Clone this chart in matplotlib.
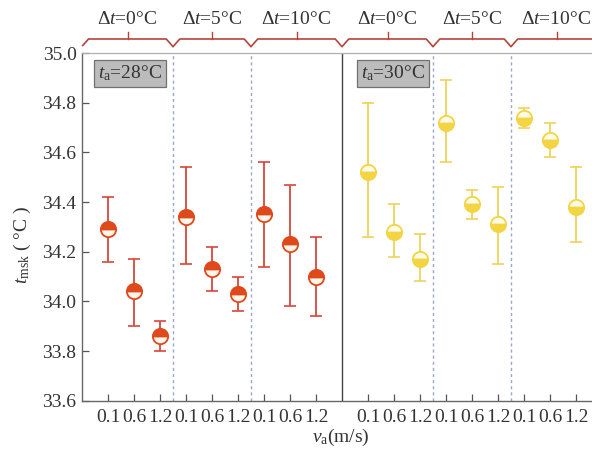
import matplotlib
matplotlib.use("Agg")
import matplotlib.pyplot as plt
from matplotlib.transforms import blended_transform_factory
import numpy as np

plt.rcParams['font.family'] = ['Liberation Serif', 'DejaVu Serif']
plt.rcParams['mathtext.fontset'] = 'custom'
plt.rcParams['mathtext.rm'] = 'Liberation Serif'
plt.rcParams['mathtext.it'] = 'Liberation Serif:italic'

# air speed levels and temperature-step groups
speeds = ["0.1", "0.6", "1.2"]
dt_labels = ["0", "5", "10"]

# mean skin temperature and error-bar bounds, ta = 28 °C (Δt = 0, 5, 10)
mean_28 = [34.29, 34.04, 33.86, 34.34, 34.13, 34.03, 34.35, 34.23, 34.10]
upper_28 = [34.42, 34.17, 33.92, 34.54, 34.22, 34.10, 34.56, 34.47, 34.26]
lower_28 = [34.16, 33.90, 33.80, 34.15, 34.04, 33.96, 34.14, 33.98, 33.94]

# ta = 30 °C
mean_30 = [34.52, 34.28, 34.17, 34.72, 34.39, 34.31, 34.74, 34.65, 34.38]
upper_30 = [34.80, 34.39, 34.27, 34.89, 34.45, 34.46, 34.78, 34.72, 34.54]
lower_30 = [34.26, 34.18, 34.08, 34.56, 34.33, 34.15, 34.70, 34.58, 34.24]

red = "#de4a1c"
red_err = "#d9473a"
yellow = "#f3d443"
yellow_err = "#efd35a"
txt = "#333333"
fs = 14

fig = plt.figure(figsize=(5.92, 4.55), dpi=100)
ax = fig.add_axes([82 / 592, 54.3 / 455, 520 / 592, 347.7 / 455])

x28 = np.array([1, 2, 3, 4, 5, 6, 7, 8, 9], dtype=float)
x30 = x28 + 10


def draw(xs, m, up, lo, col, ecol, fill, alt):
    m = np.array(m)
    yerr = [m - np.array(lo), np.array(up) - m]
    ax.errorbar(xs, m, yerr=yerr, fmt="none", ecolor=ecol, elinewidth=1.3,
                capsize=4, capthick=1.2, zorder=2)
    ax.plot(xs, m, "o", ms=11, mfc=col, mfcalt=alt, mec=col, mew=1.3,
            fillstyle=fill, ls="none", zorder=3)


draw(x28, mean_28, upper_28, lower_28, red, red_err, "top", "#fff6ea")
draw(x30, mean_30, upper_30, lower_30, yellow, yellow_err, "bottom", "#fffbe6")

ax.set_xlim(0, 20)
ax.set_ylim(33.6, 35.0)
ax.set_yticks(np.arange(33.6, 35.01, 0.2))
ax.set_yticklabels([f"{v:.1f}" for v in np.arange(33.6, 35.01, 0.2)])
ax.set_xticks(np.concatenate([x28, x30]))
ax.set_xticklabels(speeds * 6)
ax.tick_params(axis="both", direction="in", length=5, width=0.9,
               colors="#555555", labelcolor=txt, labelsize=fs)
ax.tick_params(axis="x", pad=6)
ax.tick_params(axis="y", pad=4)

for s in ["left", "bottom"]:
    ax.spines[s].set_color("#666666")
    ax.spines[s].set_linewidth(1.0)
ax.spines["top"].set_color("#b0b0b0")
ax.spines["top"].set_linewidth(0.9)
ax.spines["right"].set_visible(False)

# group separators
for xv in [3.5, 6.5, 13.5, 16.5]:
    ax.axvline(xv, color="#9aa6cc", lw=1.0, ls=(0, (2.2, 2.2)), zorder=1)
ax.axvline(10, color="#444444", lw=1.0, zorder=1)

# bracket along the top with group labels
tr = blended_transform_factory(ax.transData, ax.transAxes)
y_line, y_notch, y_start, y_tick = 1.0403, 1.0181, 1.0216, 1.0604
bounds = [0.03, 3.5, 6.5, 10, 13.5, 16.5, 20.0]
bx = [bounds[0]]
by = [y_start]
bx.append(bounds[0] + 0.22)
by.append(y_line)
for b in bounds[1:-1]:
    bx += [b - 0.26, b, b + 0.26]
    by += [y_line, y_notch, y_line]
bx.append(bounds[-1])
by.append(y_line)
ax.plot(bx, by, color="#b4443a", lw=1.2, transform=tr, clip_on=False)

for i in range(6):
    c = 0.5 * (bounds[i] + bounds[i + 1]) if i > 0 else 0.5 * (0 + bounds[1])
    ax.plot([c, c], [y_line, y_tick], color="#b4443a", lw=1.0,
            transform=tr, clip_on=False)
    ax.text(c, 1.095, "Δ$t$=" + dt_labels[i % 3] + "°C", transform=tr,
            ha="center", va="center", fontsize=fs, color=txt)

# ambient temperature tags
box = dict(boxstyle="square,pad=0.2", fc="#bcbcbc", ec="#707070", lw=0.9)
ax.text(1.85, 0.941, "$t_{\\mathrm{a}}$=28°C", transform=tr, ha="center",
        va="center", fontsize=fs, color=txt, bbox=box)
ax.text(11.97, 0.941, "$t_{\\mathrm{a}}$=30°C", transform=tr, ha="center",
        va="center", fontsize=fs, color=txt, bbox=box)

fig.text(22 / 592, 1 - 245 / 455, "$t_{\\mathrm{msk}}$ ( °C )", rotation=90,
         ha="center", va="center", fontsize=fs, color=txt)
fig.text(341 / 592, 1 - 437 / 455, "$v_{\\mathrm{a}}$(m/s)", ha="center",
         va="center", fontsize=fs, color=txt)

fig.savefig("out.png", dpi=100)
